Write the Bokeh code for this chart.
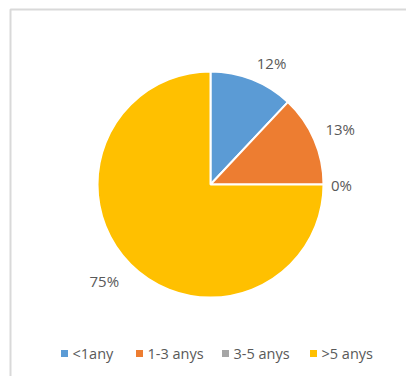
import math
from bokeh.plotting import figure
from bokeh.models import Range1d, ColumnDataSource
from bokeh.core.properties import value
from bokeh.embed import file_html
from bokeh.resources import INLINE

# ---- data ----
categories = ["<1any", "1-3 anys", "3-5 anys", ">5 anys"]
percents = [12, 13, 0, 75]
colors = ["#5B9BD5", "#ED7D31", "#A5A5A5", "#FFC000"]

# ---- layout ----
W, H = 406, 376
cx, cy = 210, H - 184
R = 113
FONT = "Open Sans"
GRAY = "#595959"

p = figure(width=W, height=H, output_backend="svg", toolbar_location=None,
           x_range=Range1d(0, W), y_range=Range1d(0, H),
           x_axis_location=None, y_axis_location=None, min_border=0)
p.grid.visible = False
p.outline_line_color = None
p.background_fill_color = "white"
p.border_fill_color = "white"

# chart border (cropped on right/bottom)
p.quad(left=[10], right=[W + 20], top=[H - 9], bottom=[-20],
       fill_color=None, line_color="#D9D9D9", line_width=2)


def clamp(t):
    return max(-1.0, min(1.0, t))


total = float(sum(percents))
starts, ends, wcols = [], [], []
lx, ly, ltxt = [], [], []
cum = 0.0
for v, c in zip(percents, colors):
    a0 = math.pi / 2 - 2 * math.pi * cum / total
    cum += v
    a1 = math.pi / 2 - 2 * math.pi * cum / total
    if v > 0:
        starts.append(a1)
        ends.append(a0)
        wcols.append(c)
    mid = (a0 + a1) / 2
    ux, uy = math.cos(mid), math.sin(mid)
    txt = f"{v}%"
    tw = 10 * len(txt)
    th = 11
    rr = R + 12 if v < 50 else R + 16
    lx.append(cx + rr * ux + tw / 2 * clamp(3 * ux) - (4 if abs(uy) < 0.05 else 0))
    ly.append(cy + rr * uy + th / 2 * clamp(3 * uy))
    ltxt.append(txt)

src = ColumnDataSource(dict(x=[cx] * len(starts), y=[cy] * len(starts),
                            s=starts, e=ends, c=wcols))
p.wedge(x="x", y="y", radius=R, start_angle="s", end_angle="e",
        fill_color="c", line_color="white", line_width=2, source=src)

p.text(x=lx, y=ly, text=ltxt, text_font=value(FONT), text_font_size="15px",
       text_color=GRAY, text_align="center", text_baseline="middle")

# legend
legend_x = [64, 139, 225, 313]
legend_y = H - 353
p.scatter(x=legend_x, y=[legend_y] * 4, marker="square", size=7,
          fill_color=colors, line_color=None)
p.text(x=[x + 8 for x in legend_x], y=[legend_y] * 4, text=categories,
       text_font=value(FONT), text_font_size="14.5px", text_color=GRAY,
       text_align="left", text_baseline="middle")

open("out.html", "w").write(file_html(p, INLINE))
